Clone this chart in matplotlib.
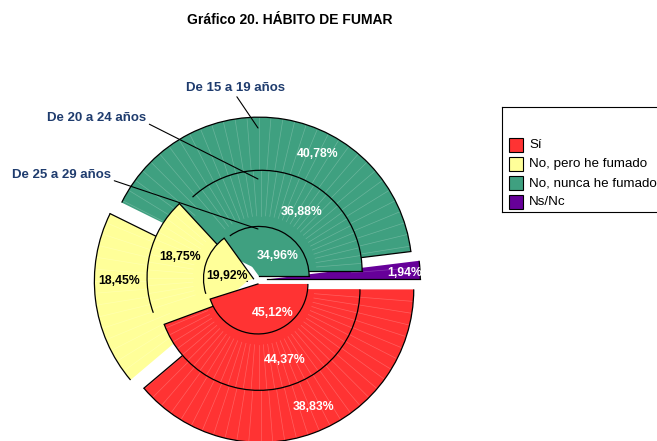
import numpy as np
import matplotlib
matplotlib.use("Agg")
import matplotlib.pyplot as plt
from matplotlib.patches import Rectangle, Arc

plt.rcParams['font.family'] = ['Liberation Sans', 'DejaVu Sans']

# datos
categorias = ["Sí", "No, pero he fumado", "No, nunca he fumado", "Ns/Nc"]
colores = ["#FF3333", "#FFFF99", "#3FA080", "#660099"]
edades = ["De 15 a 19 años", "De 20 a 24 años", "De 25 a 29 años"]
v_15_19 = [38.83, 18.45, 40.78, 1.94]
v_20_24 = [44.37, 18.75, 36.88, 0.0]
v_25_29 = [45.12, 19.92, 34.96, 0.0]

W, H = 657, 441

def Y(y):
    # pixel de imagen (arriba=0) -> coordenada del eje
    return H - y

# geometria (en pixeles)
cx, cy = 257.3, Y(280)
radios = [153, 101, 50]
separacion = [10, 9.5, 4]

# posicion de las etiquetas de porcentaje (pixeles de imagen)
pos_15_19 = [(313, 407), (119, 281), (318, 154), (405, 273)]
pos_20_24 = [(285, 360), (180, 257), (302, 212)]
pos_25_29 = [(273, 313), (227, 276), (278, 256)]

# etiquetas de anillo: texto, punta de la linea, relpos
ring_txt = [(235, 88), (97, 118), (62, 175)]
ring_tip = [(258, 128), (258, 179), (258, 229)]
ring_rel = [(0.5, 0.0), (1.0, 0.1), (1.0, 0.1)]

fig = plt.figure(figsize=(W / 100, H / 100), dpi=100)
ax = fig.add_axes([0, 0, 1, 1])

series = [v_15_19, v_20_24, v_25_29]
posiciones = [pos_15_19, pos_20_24, pos_25_29]

for k, (vals, r, d) in enumerate(zip(series, radios, separacion)):
    keep = [i for i, v in enumerate(vals) if v > 0]
    z = 2 + 3 * k
    wedges, _ = ax.pie([vals[i] for i in keep], radius=r, center=(cx, cy),
                       startangle=0, counterclock=False, explode=[d] * len(keep),
                       colors=[colores[i] for i in keep], normalize=True,
                       wedgeprops=dict(edgecolor="none", linewidth=0))
    for w in wedges:
        w.set_zorder(z)
        (wx, wy), wr = w.center, w.r
        t1, t2 = w.theta1, w.theta2
        # lineas claras de relleno (como el degradado de excel)
        if k < 2:
            for a in np.arange(np.ceil(t1 / 4.5) * 4.5, t2, 4.5):
                c, s = np.cos(np.radians(a)), np.sin(np.radians(a))
                ax.plot([wx + 0.55 * wr * c, wx + wr * c],
                        [wy + 0.55 * wr * s, wy + wr * s],
                        color="white", lw=0.5, alpha=0.22, zorder=z + 0.5)
        # contorno: arco exterior y borde radial inicial
        ax.add_patch(Arc((wx, wy), 2 * wr, 2 * wr, theta1=t1, theta2=t2,
                         color="black", lw=0.9, zorder=z + 1))
        ax.plot([wx, wx + wr * np.cos(np.radians(t1))],
                [wy, wy + wr * np.sin(np.radians(t1))],
                color="black", lw=0.9, zorder=z + 1)

for vals, pos in zip(series, posiciones):
    for i, (x, y) in enumerate(pos):
        txt = f"{vals[i]:.2f}%".replace(".", ",")
        col = "black" if i == 1 else "white"
        ax.text(x, Y(y), txt, color=col, fontsize=8.8, fontweight="bold",
                ha="center", va="center", zorder=20)

for lab, (tx, ty), (px, py), rel in zip(edades, ring_txt, ring_tip, ring_rel):
    ax.annotate(lab, xy=(px, Y(py)), xytext=(tx, Y(ty)),
                ha="center", va="center", fontsize=9.5, fontweight="bold",
                color="#1F3C6E", zorder=21,
                arrowprops=dict(arrowstyle="-", color="black", lw=0.8,
                                shrinkA=0, shrinkB=0, relpos=rel))

ax.text(290, Y(20), "Gráfico 20. HÁBITO DE FUMAR", ha="center", va="center",
        fontsize=10, fontweight="bold")

# leyenda (la caja se sale por la derecha, sin borde derecho)
for xs, ys in [([502, W + 20], [Y(107), Y(107)]),
               ([502, 502], [Y(107), Y(212)]),
               ([502, W + 20], [Y(212), Y(212)])]:
    ax.plot(xs, ys, color="black", lw=0.8, clip_on=False, zorder=20)
filas = [145, 164, 183, 202]
for cat, col, fy in zip(categorias, colores, filas):
    ax.add_patch(Rectangle((509, Y(fy) - 7), 14, 14, facecolor=col,
                           edgecolor="black", linewidth=0.8, zorder=21))
    ax.text(529, Y(fy), cat, fontsize=9.6, va="center", ha="left", zorder=21)

ax.set_xlim(0, W)
ax.set_ylim(0, H)
ax.set_aspect("auto")
ax.axis("off")

fig.savefig("out.png", dpi=100)
